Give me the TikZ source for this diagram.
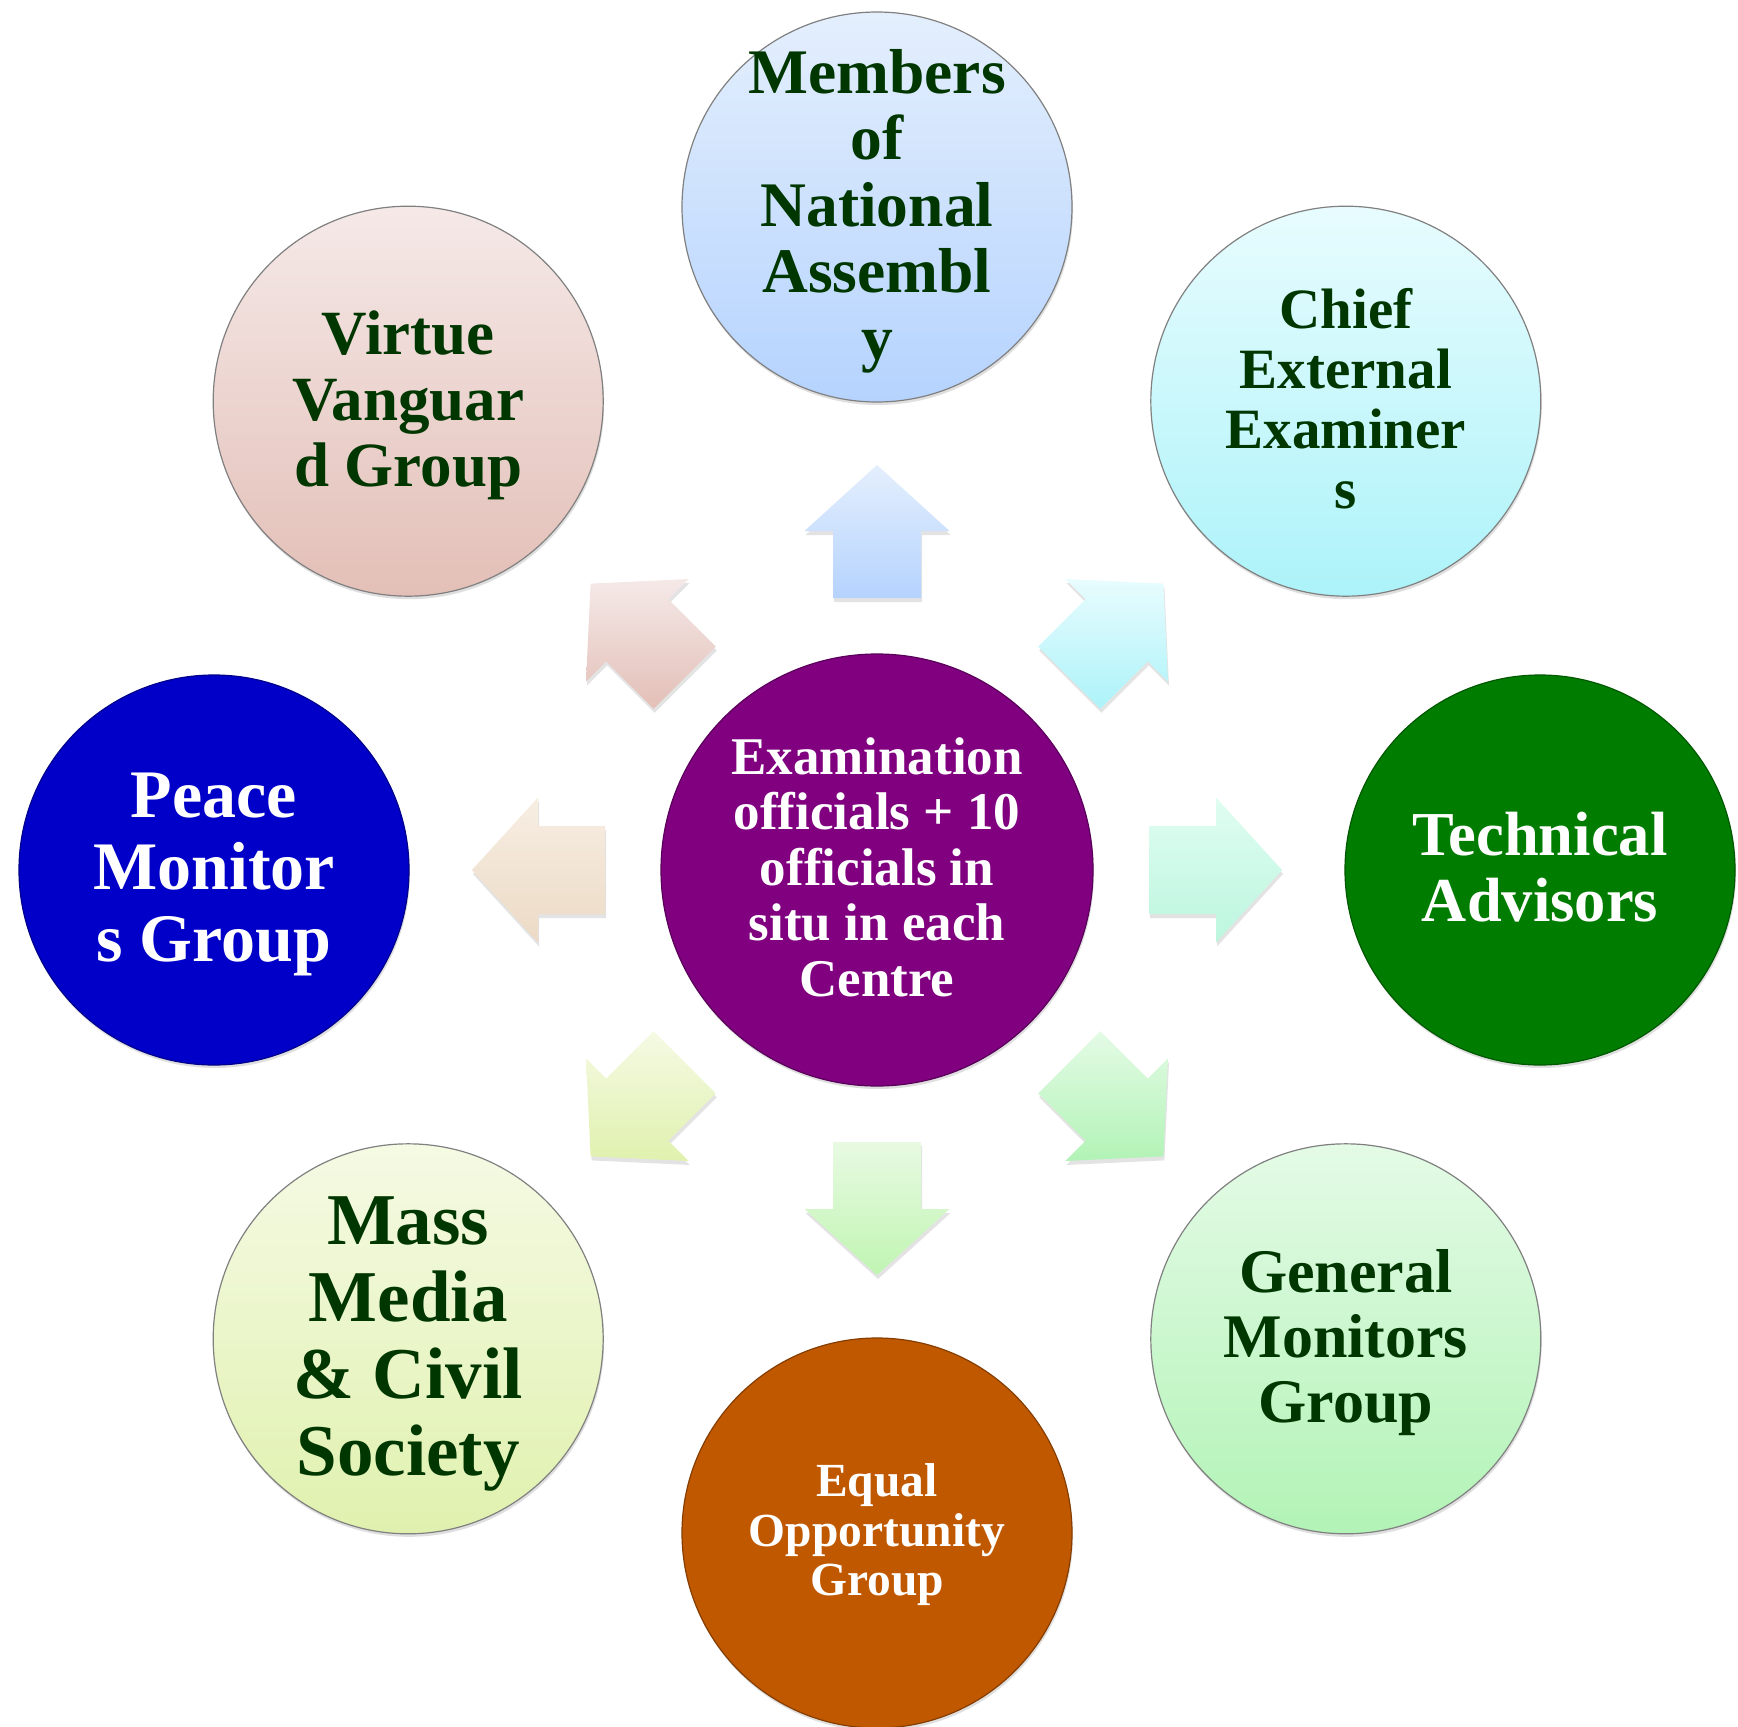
\documentclass[tikz,border=0pt]{standalone}
\usepackage{fontspec}
\setmainfont{Liberation Serif}
\usetikzlibrary{calc,shadows}
\definecolor{txtgreen}{RGB}{0,55,0}
\definecolor{cpurple}{RGB}{128,0,128}
\definecolor{cblue}{RGB}{0,0,200}
\definecolor{cgreen}{RGB}{0,125,0}
\definecolor{corange}{RGB}{192,88,0}
\definecolor{bluetop}{HTML}{E4EFFD}\definecolor{bluebot}{HTML}{B5D3FE}
\definecolor{cyantop}{HTML}{E8FCFE}\definecolor{cyanbot}{HTML}{ACF3F9}
\definecolor{minttop}{HTML}{E0FDF2}\definecolor{mintbot}{HTML}{BCF6DE}
\definecolor{lgrtop}{HTML}{E4FBE6}\definecolor{lgrbot}{HTML}{B2F3B6}
\definecolor{dgrtop}{HTML}{E8FAE2}\definecolor{dgrbot}{HTML}{C0F5B2}
\definecolor{ylwtop}{HTML}{F5FAE4}\definecolor{ylwbot}{HTML}{E0F1AE}
\definecolor{begtop}{HTML}{F7EEE3}\definecolor{begbot}{HTML}{ECDAC5}
\definecolor{pnktop}{HTML}{F5E9E8}\definecolor{pnkbot}{HTML}{E3BFB7}
\tikzset{
  satbase/.style={circle, minimum size=390pt, inner sep=0pt, line width=1.2pt,
    drop shadow={shadow xshift=1pt, shadow yshift=-3pt, opacity=0.25}},
  satgrad/.style 2 args={satbase, draw=black!50, top color=#1, bottom color=#2},
  satsolid/.style={satbase, draw=#1!70!black, fill=#1},
  lbl/.style={align=center, inner sep=0pt, text depth=0pt, yshift=3pt},
  dk/.style 2 args={lbl, text=txtgreen, font=\fontsize{#1}{#2}\selectfont\bfseries},
  wt/.style 2 args={lbl, text=white, font=\fontsize{#1}{#2}\selectfont\bfseries},
  blockarrow/.style 2 args={top color=#1, bottom color=#2, draw=none,
    drop shadow={shadow xshift=1pt, shadow yshift=-4pt, opacity=0.22}}
}
\newcommand\radarrow[3]{%
  \path[blockarrow={#2}{#3}]
   ($(C)+(#1:272)+(#1+90:44)$) -- ($(C)+(#1:339)+(#1+90:44)$) --
   ($(C)+(#1:339)+(#1+90:72.5)$) -- ($(C)+(#1:405)$) --
   ($(C)+(#1:339)+(#1-90:72.5)$) -- ($(C)+(#1:339)+(#1-90:44)$) --
   ($(C)+(#1:272)+(#1-90:44)$) -- cycle;}
\begin{document}
\begin{tikzpicture}[x=1pt,y=-1pt]
\useasboundingbox (0,0) rectangle (1738,1727);
\fill[white] (0,0) rectangle (1738,1727);

% centre
\node[satbase, minimum size=432pt, draw=cpurple!70!black, fill=cpurple] (C) at (877,870) {};
\node[wt={53}{55.5}] (Ct) at (C) {Examination\\officials + 10\\officials in\\situ in each\\Centre};

% arrows
\radarrow{-90}{bluetop}{bluebot}
\radarrow{-45}{cyantop}{cyanbot}
\radarrow{0}{minttop}{mintbot}
\radarrow{45}{lgrtop}{lgrbot}
\radarrow{90}{dgrtop}{dgrbot}
\radarrow{135}{ylwtop}{ylwbot}
\radarrow{180}{begtop}{begbot}
\radarrow{-135}{pnktop}{pnkbot}

% satellites
\node[satgrad={bluetop}{bluebot}] (N) at ($(C)+(-90:663)$) {};
\node[dk={63.5}{66.5}] (Nt) at (N) {Members\\of\\National\\Assembl\\y};

\node[satgrad={cyantop}{cyanbot}] (NE) at ($(C)+(-45:663)$) {};
\node[dk={57}{60}] (NEt) at (NE) {Chief\\External\\Examiner\\s};

\node[satsolid=cgreen] (E) at ($(C)+(0:663)$) {};
\node[wt={62.5}{66.5}] (Et) at (E) {Technical\\Advisors};

\node[satgrad={lgrtop}{lgrbot}] (SE) at ($(C)+(45:663)$) {};
\node[dk={62}{65}] (SEt) at (SE) {General\\Monitors\\Group};

\node[satsolid=corange] (S) at ($(C)+(90:663)$) {};
\node[wt={47.5}{49.5}] (St) at (S) {Equal\\Opportunity\\Group};

\node[satgrad={ylwtop}{ylwbot}] (SW) at ($(C)+(135:663)$) {};
\node[dk={73}{77}] (SWt) at (SW) {Mass\\Media\\\& Civil\\Society};

\node[satsolid=cblue] (W) at ($(C)+(180:663)$) {};
\node[wt={68}{72}] (Wt) at (W) {Peace\\Monitor\\s Group};

\node[satgrad={pnktop}{pnkbot}] (NW) at ($(C)+(-135:663)$) {};
\node[dk={63}{66}] (NWt) at (NW) {Virtue\\Vanguar\\d Group};
\end{tikzpicture}
\end{document}
